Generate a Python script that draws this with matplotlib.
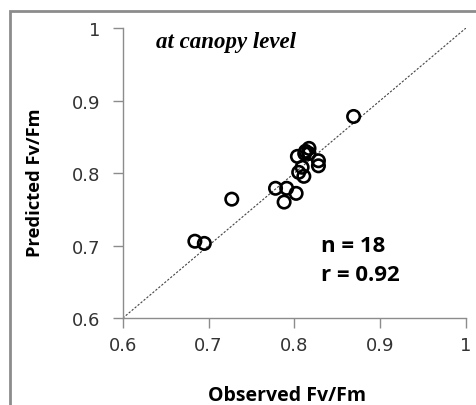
import matplotlib.pyplot as plt
from matplotlib.patches import Rectangle

# observed vs predicted Fv/Fm at canopy level
observed = [0.869, 0.817, 0.812, 0.817, 0.8035, 0.828, 0.828, 0.809, 0.805,
            0.811, 0.813, 0.778, 0.791, 0.802, 0.788, 0.727, 0.684, 0.695]
predicted = [0.878, 0.834, 0.827, 0.827, 0.823, 0.817, 0.810, 0.808, 0.801,
             0.7955, 0.830, 0.779, 0.779, 0.772, 0.760, 0.764, 0.706, 0.703]
ticks = [0.6, 0.7, 0.8, 0.9, 1.0]
tick_labels = ['0.6', '0.7', '0.8', '0.9', '1']

fig = plt.figure(figsize=(4.76, 4.06), dpi=100)
ax = fig.add_axes([0.258, 0.214, 0.721, 0.7146])

# outer frame of the chart area
fig.patches.append(Rectangle((10 / 476, -0.05), 1.2, 1 - 12 / 406 + 0.05,
                             transform=fig.transFigure, fill=False,
                             edgecolor='#8c8c8c', linewidth=2))

ax.plot([0.6, 1.0], [0.6, 1.0], linestyle=(0, (2, 1.5)), color='#444444',
        linewidth=0.8, zorder=1)
ax.scatter(observed, predicted, s=80, facecolors='none', edgecolors='black',
           linewidths=1.9, zorder=2)

ax.set_xlim(0.6, 1.0)
ax.set_ylim(0.6, 1.0)
ax.set_xticks(ticks)
ax.set_xticklabels(tick_labels)
ax.set_yticks(ticks)
ax.set_yticklabels(tick_labels)
ax.tick_params(labelsize=13, labelcolor='#333333', color='#8c8c8c',
               length=7, width=1)
ax.tick_params(axis='x', pad=6)
ax.tick_params(axis='y', pad=9)
for side in ['top', 'right']:
    ax.spines[side].set_visible(False)
for side in ['left', 'bottom']:
    ax.spines[side].set_color('#8c8c8c')
    ax.spines[side].set_linewidth(1)

ax.set_xlabel('Observed Fv/Fm', fontsize=14, fontweight='bold',
              family='Open Sans')
ax.set_ylabel('Predicted Fv/Fm', fontsize=13.2, fontweight='bold',
              family='Open Sans')
ax.xaxis.label.set_va('center')
ax.yaxis.label.set_va('center')
ax.xaxis.set_label_coords(0.478, -0.266)
ax.yaxis.set_label_coords(-0.257, 0.469)

ax.text(0.639, 0.982, 'at canopy level', fontsize=16.5, fontstyle='italic',
        fontweight='bold', family='Liberation Serif', va='center')
ax.text(0.8315, 0.7, 'n = 18', fontsize=16, fontweight='bold',
        family='Open Sans', va='center')
ax.text(0.8315, 0.66, 'r = 0.92', fontsize=16, fontweight='bold',
        family='Open Sans', va='center')

fig.savefig('out.png', dpi=100)
